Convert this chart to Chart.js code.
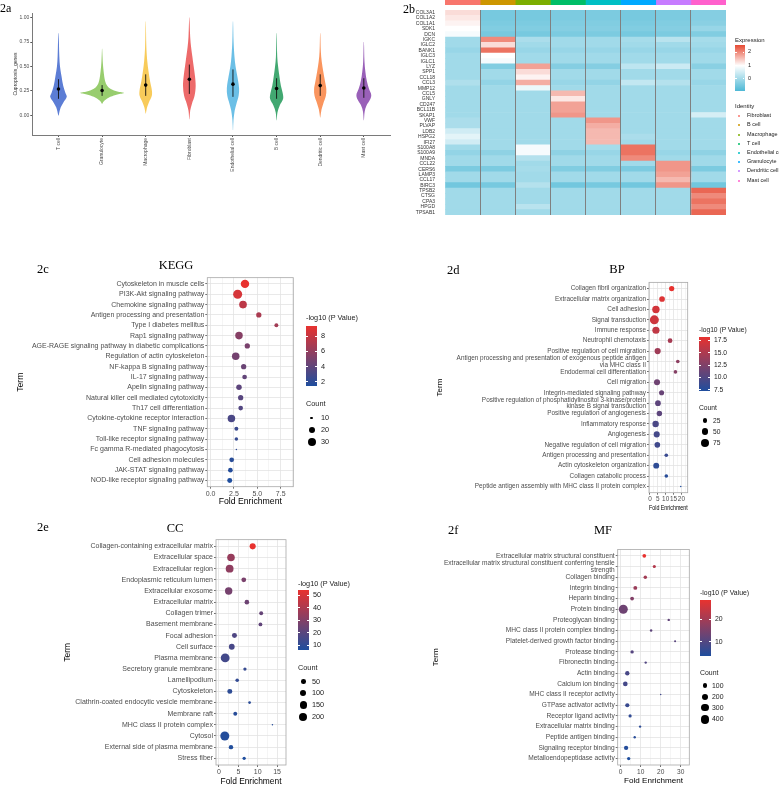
<!DOCTYPE html>
<html>
<head>
<meta charset="utf-8">
<script src="https://cdn.jsdelivr.net/npm/chart.js@4.4.1/dist/chart.umd.min.js"></script>
<style>
  body { margin: 0; width: 779px; height: 785px; position: relative; overflow: hidden; background: #fff;
         font-family: "Liberation Sans", Arial, sans-serif; }
  .txt { position: absolute; white-space: nowrap; line-height: 1; color: #222; will-change: transform; }
  .box { position: absolute; }
</style>
</head>
<body>
<script>
// ---------- 2a: cuproptosis score per cell type ----------
const cellTypes = ['T cell', 'Granulocyte', 'Macrophage', 'Fibroblast', 'Endothelial cell', 'B cell', 'Dendritic cell', 'Mast cell'];
const scoreMean = [0.27, 0.255, 0.31, 0.37, 0.32, 0.275, 0.305, 0.28];
const scoreLow  = [0.17, 0.20, 0.20, 0.22, 0.19, 0.17, 0.20, 0.18];
const scoreHigh = [0.37, 0.31, 0.42, 0.52, 0.47, 0.38, 0.42, 0.38];
// density outline for each cell type: [score, half width]
const scoreDensity = [
  [[0.0, 0.005], [0.08, 0.05], [0.13, 0.11], [0.19, 0.19], [0.23, 0.16], [0.3, 0.11], [0.4, 0.07], [0.5, 0.035], [0.6, 0.02], [0.84, 0.004]],
  [[0.12, 0.005], [0.15, 0.05], [0.19, 0.19], [0.215, 0.35], [0.23, 0.5], [0.245, 0.35], [0.27, 0.2], [0.3, 0.12], [0.35, 0.07], [0.45, 0.035], [0.55, 0.015], [0.68, 0.003]],
  [[0.02, 0.004], [0.08, 0.03], [0.13, 0.07], [0.2, 0.14], [0.26, 0.14], [0.35, 0.1], [0.45, 0.065], [0.56, 0.035], [0.7, 0.015], [0.96, 0.003]],
  [[-0.04, 0.003], [0.05, 0.02], [0.12, 0.06], [0.2, 0.12], [0.3, 0.145], [0.4, 0.13], [0.5, 0.1], [0.6, 0.07], [0.7, 0.04], [0.8, 0.02], [1.0, 0.003]],
  [[-0.15, 0.003], [-0.05, 0.012], [0.05, 0.04], [0.12, 0.08], [0.2, 0.13], [0.28, 0.14], [0.4, 0.1], [0.5, 0.06], [0.6, 0.035], [0.75, 0.015], [0.96, 0.003]],
  [[-0.05, 0.003], [0.03, 0.02], [0.1, 0.07], [0.17, 0.15], [0.23, 0.14], [0.3, 0.1], [0.4, 0.065], [0.5, 0.035], [0.6, 0.015], [0.84, 0.003]],
  [[-0.02, 0.003], [0.06, 0.03], [0.12, 0.07], [0.2, 0.13], [0.27, 0.14], [0.35, 0.11], [0.45, 0.07], [0.55, 0.035], [0.65, 0.015], [0.84, 0.003]],
  [[-0.05, 0.003], [0.04, 0.02], [0.1, 0.06], [0.16, 0.14], [0.21, 0.17], [0.27, 0.12], [0.35, 0.07], [0.45, 0.035], [0.55, 0.015], [0.75, 0.003]]
];

// ---------- 2b: marker gene heatmap ----------
const clusters = ['Fibroblast', 'B cell', 'Macrophage', 'T cell', 'Endothelial cell', 'Granulocyte', 'Dendritic cell', 'Mast cell'];
const genes = ['COL3A1', 'COL1A2', 'COL1A1', 'SDK1', 'DCN', 'IGKC', 'IGLC2', 'BANK1', 'IGLC3', 'IGLC1',
  'LYZ', 'SPP1', 'CCL18', 'CCL3', 'MMP12', 'CCL5', 'GNLY', 'CD247', 'BCL11B', 'SKAP1',
  'VWF', 'PLVAP', 'LDB2', 'HSPG2', 'IFI27', 'S100A8', 'S100A9', 'MNDA', 'CCL22', 'CERS6',
  'LAMP3', 'CCL17', 'BIRC3', 'TPSB2', 'CTSG', 'CPA3', 'HPGD', 'TPSAB1'];
// mean scaled expression, gene x cluster
const expr = [
  [1.3, -0.45, -0.45, -0.4, -0.4, -0.45, -0.4, -0.3],
  [1.2, -0.45, -0.45, -0.4, -0.4, -0.45, -0.4, -0.3],
  [1.1, -0.4, -0.4, -0.35, -0.35, -0.4, -0.35, -0.25],
  [1.0, -0.35, -0.35, -0.3, -0.3, -0.35, -0.3, -0.1],
  [0.9, -0.45, -0.45, -0.4, -0.4, -0.45, -0.4, -0.35],
  [0.0, 2.0, 0.1, 0.0, 0.0, 0.05, 0.25, 0.05],
  [0.0, 1.3, 0.0, 0.0, 0.0, 0.0, 0.0, 0.0],
  [-0.1, 2.2, -0.1, -0.1, -0.1, -0.1, -0.1, -0.1],
  [0.0, 1.0, 0.0, 0.0, 0.0, 0.0, 0.0, 0.0],
  [0.0, 0.9, 0.0, 0.0, 0.0, 0.0, 0.0, 0.0],
  [0.0, -0.35, 1.8, -0.3, -0.3, 0.3, 0.45, -0.25],
  [0.0, 0.0, 1.3, 0.0, 0.0, 0.0, 0.0, 0.0],
  [0.0, 0.0, 1.1, 0.0, 0.0, 0.0, 0.0, 0.0],
  [0.15, -0.15, 1.7, -0.1, -0.15, 0.35, 0.2, -0.1],
  [0.0, 0.0, 0.8, 0.0, 0.0, 0.0, 0.0, 0.0],
  [0.0, 0.0, 0.0, 1.6, 0.0, 0.0, 0.0, 0.0],
  [0.0, 0.0, 0.0, 1.2, 0.0, 0.0, 0.0, 0.0],
  [0.0, 0.0, 0.0, 1.8, 0.0, 0.0, 0.0, 0.0],
  [0.0, 0.0, 0.0, 1.8, 0.0, 0.0, 0.0, 0.0],
  [0.0, 0.0, 0.0, 1.9, 0.0, 0.0, 0.0, 0.55],
  [0.1, 0.0, 0.0, 0.0, 1.9, 0.0, 0.0, 0.0],
  [0.1, 0.0, 0.0, 0.0, 1.7, 0.0, 0.0, 0.0],
  [0.5, 0.0, 0.0, 0.0, 1.6, 0.0, 0.0, 0.0],
  [0.7, 0.0, 0.0, 0.0, 1.6, 0.1, 0.0, 0.0],
  [0.5, 0.0, 0.0, 0.0, 1.6, 0.0, 0.0, 0.0],
  [0.0, 0.0, 0.9, 0.0, 0.05, 2.2, 0.0, 0.0],
  [-0.15, -0.2, 0.9, -0.2, -0.1, 2.2, -0.1, -0.2],
  [0.0, 0.0, 0.2, 0.0, 0.0, 2.0, 0.0, 0.0],
  [0.0, 0.0, 0.0, 0.0, 0.0, 0.0, 1.9, 0.0],
  [-0.4, -0.4, 0.05, -0.35, -0.35, -0.4, 1.9, -0.4],
  [0.0, 0.0, 0.0, 0.0, 0.0, 0.0, 1.8, 0.0],
  [0.0, 0.0, 0.0, 0.0, 0.0, 0.0, 1.6, 0.0],
  [-0.5, -0.45, 0.2, -0.5, -0.45, -0.5, 1.9, -0.5],
  [0.0, 0.0, 0.0, 0.0, 0.0, 0.0, 0.0, 2.3],
  [0.0, 0.0, 0.0, 0.0, 0.0, 0.0, 0.0, 2.0],
  [0.0, 0.0, 0.0, 0.0, 0.0, 0.0, 0.0, 2.2],
  [0.0, 0.0, 0.25, 0.0, 0.0, 0.0, 0.0, 2.0],
  [0.0, 0.0, 0.0, 0.0, 0.0, 0.0, 0.0, 2.3]
];
const exprBreaks = [0, 1, 2];

// ---------- 2c: KEGG ----------
const keggTerms = ['Cytoskeleton in muscle cells', 'PI3K-Akt signaling pathway', 'Chemokine signaling pathway',
  'Antigen processing and presentation', 'Type I diabetes mellitus', 'Rap1 signaling pathway',
  'AGE-RAGE signaling pathway in diabetic complications', 'Regulation of actin cytoskeleton',
  'NF-kappa B signaling pathway', 'IL-17 signaling pathway', 'Apelin signaling pathway',
  'Natural killer cell mediated cytotoxicity', 'Th17 cell differentiation',
  'Cytokine-cytokine receptor interaction', 'TNF signaling pathway', 'Toll-like receptor signaling pathway',
  'Fc gamma R-mediated phagocytosis', 'Cell adhesion molecules', 'JAK-STAT signaling pathway',
  'NOD-like receptor signaling pathway'];
const keggFold  = [3.68, 2.9, 3.47, 5.16, 7.04, 3.04, 3.93, 2.69, 3.54, 3.64, 3.04, 3.22, 3.22, 2.23, 2.76, 2.76, 2.76, 2.26, 2.12, 2.05];
const keggCount = [33, 37, 28, 16, 12, 27, 16, 27, 16, 14, 17, 16, 14, 27, 12, 11, 9, 14, 14, 15];
const keggLogP  = [9.3, 8.6, 7.6, 6.9, 6.6, 5.5, 5.0, 4.8, 4.4, 4.1, 3.9, 3.7, 3.5, 3.2, 2.6, 2.4, 2.2, 1.9, 1.7, 1.5];
const keggColorBreaks = [2, 4, 6, 8];
const keggCountBreaks = [10, 20, 30];

// ---------- 2d: BP ----------
const bpTerms = ['Collagen fibril organization', 'Extracellular matrix organization', 'Cell adhesion',
  'Signal transduction', 'Immune response', 'Neutrophil chemotaxis', 'Positive regulation of cell migration',
  'Antigen processing and presentation of exogenous peptide antigen\nvia MHC class II',
  'Endodermal cell differentiation', 'Cell migration', 'Integrin-mediated signaling pathway',
  'Positive regulation of phosphatidylinositol 3-kinase/protein\nkinase B signal transduction',
  'Positive regulation of angiogenesis', 'Inflammatory response', 'Angiogenesis',
  'Negative regulation of cell migration', 'Antigen processing and presentation',
  'Actin cytoskeleton organization', 'Collagen catabolic process',
  'Peptide antigen assembly with MHC class II protein complex'];
const bpFold  = [13.8, 7.7, 3.8, 2.8, 3.8, 12.8, 4.9, 17.7, 16.2, 4.5, 7.4, 5.1, 6.0, 3.6, 4.3, 4.7, 10.4, 4.0, 10.4, 19.6];
const bpCount = [30, 35, 62, 95, 58, 24, 42, 15, 15, 40, 28, 35, 32, 45, 40, 35, 15, 38, 15, 8];
const bpLogP  = [18.2, 17.6, 17.0, 16.7, 16.0, 14.6, 14.2, 13.2, 12.8, 11.6, 11.2, 10.6, 10.6, 9.6, 9.3, 9.0, 8.6, 8.1, 7.7, 7.2];
const bpColorBreaks = [7.5, 10, 12.5, 15, 17.5];
const bpCountBreaks = [25, 50, 75];

// ---------- 2e: CC ----------
const ccTerms = ['Collagen-containing extracellular matrix', 'Extracellular space', 'Extracellular region',
  'Endoplasmic reticulum lumen', 'Extracellular exosome', 'Extracellular matrix', 'Collagen trimer',
  'Basement membrane', 'Focal adhesion', 'Cell surface', 'Plasma membrane', 'Secretory granule membrane',
  'Lamellipodium', 'Cytoskeleton', 'Clathrin-coated endocytic vesicle membrane', 'Membrane raft',
  'MHC class II protein complex', 'Cytosol', 'External side of plasma membrane', 'Stress fiber'];
const ccFold  = [8.7, 3.1, 2.75, 6.4, 2.5, 7.2, 10.9, 10.7, 4.0, 3.3, 1.6, 6.7, 4.7, 2.8, 7.9, 4.2, 13.8, 1.5, 3.1, 6.5];
const ccCount = [95, 160, 170, 55, 150, 50, 35, 33, 60, 85, 225, 25, 28, 60, 18, 35, 12, 235, 45, 25];
const ccLogP  = [54.3, 35, 33, 28, 27, 25, 23, 22, 18, 16, 15, 12, 11, 10, 9, 8.5, 8, 7.5, 7, 6.3];
const ccColorBreaks = [10, 20, 30, 40, 50];
const ccCountBreaks = [50, 100, 150, 200];

// ---------- 2f: MF ----------
const mfTerms = ['Extracellular matrix structural constituent',
  'Extracellular matrix structural constituent conferring tensile\nstrength', 'Collagen binding',
  'Integrin binding', 'Heparin binding', 'Protein binding', 'Proteoglycan binding',
  'MHC class II protein complex binding', 'Platelet-derived growth factor binding', 'Protease binding',
  'Fibronectin binding', 'Actin binding', 'Calcium ion binding', 'MHC class II receptor activity',
  'GTPase activator activity', 'Receptor ligand activity', 'Extracellular matrix binding',
  'Peptide antigen binding', 'Signaling receptor binding', 'Metalloendopeptidase activity'];
const mfFold  = [11.8, 16.8, 12.3, 7.3, 5.7, 1.3, 24.0, 15.2, 27.2, 5.7, 12.5, 3.3, 2.3, 20.0, 3.3, 4.7, 9.7, 7.0, 2.7, 4.0];
const mfCount = [50, 30, 40, 55, 50, 465, 15, 16, 11, 38, 14, 75, 90, 8, 65, 32, 14, 14, 70, 35];
const mfLogP  = [28.6, 22, 20, 19, 16, 13.5, 12, 11.5, 11, 10.5, 10, 9, 8.5, 8, 7, 6, 5.5, 5, 4.5, 3.75];
const mfColorBreaks = [10, 20];
const mfCountBreaks = [100, 200, 300, 400];

// ---------- styles ----------
const SANS = '"Liberation Sans", Arial, sans-serif';
const SERIF = '"Liberation Serif", "Times New Roman", serif';
const violinColors = ['#4a6fd0', '#8dc85e', '#f7c548', '#eb5a5a', '#5bb8e3', '#2e9e62', '#f98a4c', '#8e4fb0'];
const clusterColors = ['#F8766D', '#CD9600', '#7CAE00', '#00BE67', '#00BFC4', '#00A9FF', '#C77CFF', '#FF61CC'];
const heatStops = [[-0.9, '#4db8d5'], [1, '#ffffff'], [2.55, '#e64a33']];
const LOW = '#1f4e9e', HIGH = '#e8322f';

Chart.defaults.font.family = SANS;

function hex2rgb(h) { const n = parseInt(h.slice(1), 16); return [n >> 16 & 255, n >> 8 & 255, n & 255]; }
function mix(a, b, t) {
  const A = hex2rgb(a), B = hex2rgb(b);
  return 'rgb(' + A.map((v, k) => Math.round(v + (B[k] - v) * t)).join(',') + ')';
}
function ramp(stops, v) {
  if (v <= stops[0][0]) return mix(stops[0][1], stops[0][1], 0);
  for (let k = 1; k < stops.length; k++) {
    if (v <= stops[k][0]) return mix(stops[k - 1][1], stops[k][1], (v - stops[k - 1][0]) / (stops[k][0] - stops[k - 1][0]));
  }
  const last = stops[stops.length - 1][1];
  return mix(last, last, 0);
}

function makeCanvas(left, top, w, h) {
  const c = document.createElement('canvas');
  c.width = w; c.height = h;
  Object.assign(c.style, { position: 'absolute', left: left + 'px', top: top + 'px', width: w + 'px', height: h + 'px' });
  document.body.appendChild(c);
  return c;
}
function label(x, y, str, o = {}) {
  const d = document.createElement('div');
  d.className = 'txt';
  d.textContent = str;
  d.style.left = x + 'px';
  d.style.top = y + 'px';
  d.style.fontSize = (o.size || 6) + 'px';
  if (o.serif) d.style.fontFamily = SERIF;
  if (o.color) d.style.color = o.color;
  const tx = o.align === 'center' ? '-50%' : o.align === 'right' ? '-100%' : '0';
  d.style.transform = 'translate(' + tx + ',-50%)';
  document.body.appendChild(d);
}
function box(x, y, w, h, bg, radius) {
  const d = document.createElement('div');
  d.className = 'box';
  Object.assign(d.style, { left: x + 'px', top: y + 'px', width: w + 'px', height: h + 'px', background: bg });
  if (radius) d.style.borderRadius = radius;
  document.body.appendChild(d);
}

// panel border for the enrichment plots
const frame = {
  id: 'frame',
  afterDraw(chart, args, opts) {
    if (!opts.color) return;
    const { ctx, chartArea: a } = chart;
    ctx.save();
    ctx.strokeStyle = opts.color;
    ctx.lineWidth = 0.8;
    ctx.strokeRect(a.left, a.top, a.right - a.left, a.bottom - a.top);
    ctx.restore();
  }
};

// ---------- 2a violin ----------
label(0, 7.5, '2a', { size: 12, serif: true, color: '#000' });
{
  const outline = i => {
    const prof = scoreDensity[i];
    const right = prof.map(([y, w]) => ({ x: i + w, y }));
    const left = prof.slice().reverse().map(([y, w]) => ({ x: i - w, y }));
    return right.concat(left);
  };
  const cv = makeCanvas(9, 9, 382, 171);
  new Chart(cv, {
    type: 'scatter',
    data: {
      datasets: [
        ...cellTypes.map((n, i) => ({
          type: 'line', data: outline(i), fill: 'shape', backgroundColor: violinColors[i] + 'e6',
          borderColor: 'rgba(0,0,0,0)', borderWidth: 1, pointRadius: 0, tension: 0.35, order: 3
        })),
        ...cellTypes.map((n, i) => ({
          type: 'line', data: [{ x: i, y: scoreLow[i] }, { x: i, y: scoreHigh[i] }],
          borderColor: '#111', borderWidth: 0.9, pointRadius: 0, fill: false, order: 2
        })),
        {
          type: 'scatter', data: cellTypes.map((n, i) => ({ x: i, y: scoreMean[i] })),
          pointRadius: 1.8, backgroundColor: '#000', borderWidth: 0, order: 1
        }
      ]
    },
    options: {
      responsive: false, animation: false, events: [],
      layout: { autoPadding: false, padding: { left: 0, top: 2.7, right: 1, bottom: 0 } },
      plugins: { legend: { display: false }, tooltip: { enabled: false } },
      scales: {
        x: {
          type: 'linear', min: -0.6, max: 7.6,
          afterFit: s => { s.height = 45; },
          border: { color: '#7a7a7a', width: 1 },
          grid: { drawOnChartArea: false, color: '#555', tickLength: 2 },
          ticks: {
            stepSize: 1, includeBounds: false, autoSkip: false, minRotation: 90, maxRotation: 90, padding: 1,
            color: '#4d4d4d', font: { family: SANS, size: 5 }, callback: v => cellTypes[v] ?? ''
          }
        },
        y: {
          type: 'linear', min: -0.2, max: 1.047,
          afterFit: s => { s.width = 23.3; },
          border: { color: '#7a7a7a', width: 1 },
          grid: { drawOnChartArea: false, color: '#555', tickLength: 2 },
          ticks: {
            stepSize: 0.25, includeBounds: false, padding: 1, color: '#4d4d4d',
            font: { family: SANS, size: 5 }, callback: v => v.toFixed(2)
          },
          title: { display: true, text: 'Cuproptosis_genes', color: '#333', font: { family: SANS, size: 5 }, padding: { top: 4, bottom: 4 } }
        }
      }
    }
  });
}

// ---------- 2b heatmap ----------
label(403, 9, '2b', { size: 12, serif: true, color: '#000' });
{
  // identity colour strip
  const strip = makeCanvas(445, 0, 281, 5);
  new Chart(strip, {
    type: 'bar',
    data: {
      labels: [''],
      datasets: clusters.map((c, j) => ({
        data: [[j, j + 1]], backgroundColor: clusterColors[j], grouped: false,
        barPercentage: 1, categoryPercentage: 1, borderWidth: 0
      }))
    },
    options: {
      indexAxis: 'y', responsive: false, animation: false, events: [],
      layout: { autoPadding: false, padding: 0 },
      plugins: { legend: { display: false }, tooltip: { enabled: false } },
      scales: { x: { display: false, min: 0, max: 8 }, y: { display: false } }
    }
  });

  const cv = makeCanvas(390, 5, 336, 215);
  new Chart(cv, {
    type: 'bar',
    data: {
      labels: genes,
      datasets: clusters.map((c, j) => ({
        label: c,
        data: genes.map(() => [j, j + 1]),
        backgroundColor: expr.map(row => ramp(heatStops, row[j])),
        grouped: false, barPercentage: 1, categoryPercentage: 1, borderWidth: 0
      }))
    },
    options: {
      indexAxis: 'y', responsive: false, animation: false, events: [],
      layout: { autoPadding: false, padding: { left: 0, top: 2.3, right: 0, bottom: 1.7 } },
      plugins: { legend: { display: false }, tooltip: { enabled: false } },
      scales: {
        x: {
          type: 'linear', min: 0, max: 8,
          afterFit: s => { s.height = 0; },
          border: { display: false },
          ticks: { display: false, stepSize: 1 },
          grid: { z: 1, drawTicks: false, lineWidth: 1, color: c => (c.tick && c.tick.value > 0 && c.tick.value < 8) ? '#808080' : 'rgba(0,0,0,0)' }
        },
        y: {
          type: 'category',
          afterFit: s => { s.width = 55; },
          border: { display: false },
          grid: { display: false },
          ticks: { autoSkip: false, padding: 2, color: '#333', font: { family: SANS, size: 5 } }
        }
      }
    }
  });

  // expression legend
  label(735, 40, 'Expression', { size: 6 });
  const top = 45, bottom = 90.7, lo = heatStops[0][0], hi = heatStops[heatStops.length - 1][0];
  const grad = heatStops.map(([v, c]) => c + ' ' + ((v - lo) / (hi - lo) * 100).toFixed(1) + '%').join(',');
  box(735, top, 9.5, bottom - top, 'linear-gradient(to top,' + grad + ')');
  exprBreaks.forEach(v => {
    const y = bottom - (v - lo) / (hi - lo) * (bottom - top);
    box(735, y - 0.4, 1.8, 0.8, '#fff');
    box(742.7, y - 0.4, 1.8, 0.8, '#fff');
    label(747.5, y, String(v), { size: 5.5 });
  });
  // identity legend
  label(735, 106, 'Identity', { size: 6 });
  const itemY = [116, 125.3, 134.7, 143.7, 153, 162, 171.3, 180.7];
  clusters.forEach((c, j) => {
    box(737.8, itemY[j] - 1.2, 2.4, 2.4, clusterColors[j], '50%');
    label(746.5, itemY[j], c, { size: 5.5 });
  });
}

// ---------- enrichment bubble plots ----------
function enrichPanel(p, terms, fold, count, logp, colorBreaks, countBreaks) {
  const lo = Math.min(...logp), hi = Math.max(...logp);
  const cMin = Math.min(...count), cMax = Math.max(...count);
  const rad = c => 0.75 * (1 + 5 * Math.sqrt(Math.max(0, (c - cMin) / (cMax - cMin))));
  const col = v => ramp([[lo, LOW], [hi, HIGH]], v);
  const isMajor = v => Math.abs(v / p.major - Math.round(v / p.major)) < 1e-6;
  const lh = p.axisFont * 1.2;
  const cl = Math.floor(p.termX - 4 - lh / 2);
  const ct = Math.floor(p.T - 3);
  const xb = p.foldY + 2 + lh / 2;
  const W = Math.ceil(p.R + 3 - cl), H = Math.ceil(xb - ct);

  label(p.tag.x, p.tag.y, p.tag.text, { size: 12.5, serif: true, color: '#000' });
  label(p.title.x, p.title.y, p.title.text, { size: 12.5, serif: true, color: '#000', align: 'center' });

  const cv = makeCanvas(cl, ct, W, H);
  new Chart(cv, {
    type: 'bubble',
    data: {
      datasets: [{
        data: terms.map((t, i) => ({ x: fold[i], y: i, r: rad(count[i]) })),
        backgroundColor: logp.map(col), borderWidth: 0, hoverRadius: 0
      }]
    },
    options: {
      responsive: false, animation: false, events: [],
      layout: { autoPadding: false, padding: { left: 0, top: p.T - ct, right: W - (p.R - cl), bottom: H - (xb - ct) } },
      plugins: { legend: { display: false }, tooltip: { enabled: false }, frame: { color: '#a8a8a8' } },
      scales: {
        x: {
          type: 'linear', min: p.xMin, max: p.xMax,
          afterFit: s => { s.height = xb - p.B; },
          border: { display: false },
          grid: {
            lineWidth: 0.8, tickLength: 2,
            color: c => (c.tick && isMajor(c.tick.value)) ? '#e3e3e3' : '#f2f2f2',
            tickColor: c => (c.tick && isMajor(c.tick.value)) ? '#4d4d4d' : 'rgba(0,0,0,0)'
          },
          ticks: {
            stepSize: p.major / 2, includeBounds: false, autoSkip: false, maxRotation: 0, padding: 1,
            color: '#4d4d4d', font: { family: SANS, size: p.font },
            callback: v => isMajor(v) ? v.toFixed(p.dec) : ''
          },
          title: { display: true, text: 'Fold Enrichment', color: '#000', font: { family: SANS, size: p.axisFont }, padding: { top: 2, bottom: 2 } }
        },
        y: {
          type: 'linear', reverse: true, min: -0.6, max: terms.length - 0.4,
          afterFit: s => { s.width = p.L - cl; },
          border: { display: false },
          grid: { color: '#e3e3e3', lineWidth: 0.8, tickColor: '#4d4d4d', tickLength: 2 },
          ticks: {
            stepSize: 1, includeBounds: false, autoSkip: false, padding: 1, color: '#4d4d4d',
            font: { family: SANS, size: p.font, lineHeight: 1.05 },
            callback: v => terms[v] !== undefined ? terms[v].split('\n') : ''
          },
          title: { display: true, text: 'Term', color: '#000', font: { family: SANS, size: p.axisFont }, padding: { top: 4, bottom: 4 } }
        }
      }
    },
    plugins: [frame]
  });

  // legends
  const lg = p.legend, fs = p.font + 0.3, bw = 10.5;
  label(lg.x, lg.titleY, '-log10 (P Value)', { size: fs });
  const bh = lg.barBottom - lg.barTop;
  box(lg.x, lg.barTop, bw, bh, 'linear-gradient(to top,' + LOW + ',' + HIGH + ')');
  colorBreaks.forEach(v => {
    const y = lg.barBottom - (v - lo) / (hi - lo) * bh;
    box(lg.x, y - 0.4, 2, 0.8, '#fff');
    box(lg.x + bw - 2, y - 0.4, 2, 0.8, '#fff');
    label(lg.x + bw + 4, y, v.toFixed(p.legendDec), { size: fs });
  });
  label(lg.x, lg.countY, 'Count', { size: fs });
  countBreaks.forEach((c, k) => {
    const r = rad(c);
    box(lg.circleX - r, lg.circlesY[k] - r, 2 * r, 2 * r, '#000', '50%');
    label(lg.labelX, lg.circlesY[k], String(c), { size: fs });
  });
}

enrichPanel({
  L: 207.3, R: 293.3, T: 276.7, B: 486.7, termX: 20.7, foldY: 502,
  xMin: -0.35, xMax: 8.85, major: 2.5, dec: 1, legendDec: 0, font: 7, axisFont: 8.7,
  tag: { x: 37, y: 269, text: '2c' }, title: { x: 175.7, y: 265, text: 'KEGG' },
  legend: { x: 306, titleY: 318, barTop: 326, barBottom: 385.7, countY: 404, circlesY: [418, 430, 442], circleX: 311.7, labelX: 321 }
}, keggTerms, keggFold, keggCount, keggLogP, keggColorBreaks, keggCountBreaks);

enrichPanel({
  L: 649, R: 687.7, T: 281.7, B: 492.7, termX: 440.7, foldY: 508,
  xMin: -0.6, xMax: 24, major: 5, dec: 0, legendDec: 1, font: 6.4, axisFont: 8,
  tag: { x: 447, y: 270, text: '2d' }, title: { x: 616.7, y: 269, text: 'BP' },
  legend: { x: 699, titleY: 330, barTop: 337, barBottom: 391, countY: 408, circlesY: [420.7, 431.7, 442.7], circleX: 705, labelX: 713 }
}, bpTerms, bpFold, bpCount, bpLogP, bpColorBreaks, bpCountBreaks);

enrichPanel({
  L: 216, R: 286, T: 538.3, B: 765, termX: 68.3, foldY: 781.7,
  xMin: -0.77, xMax: 17.3, major: 5, dec: 0, legendDec: 0, font: 7, axisFont: 8.4,
  tag: { x: 37, y: 527, text: '2e' }, title: { x: 175, y: 528, text: 'CC' },
  legend: { x: 298, titleY: 584, barTop: 590, barBottom: 650, countY: 668, circlesY: [681.7, 693.3, 705, 716.7], circleX: 303.3, labelX: 312 }
}, ccTerms, ccFold, ccCount, ccLogP, ccColorBreaks, ccCountBreaks);

enrichPanel({
  L: 617.7, R: 689.3, T: 548.3, B: 765, termX: 436.7, foldY: 780.7,
  xMin: -1.5, xMax: 34.3, major: 10, dec: 0, legendDec: 0, font: 6.6, axisFont: 8.1,
  tag: { x: 448, y: 530, text: '2f' }, title: { x: 603, y: 530, text: 'MF' },
  legend: { x: 700, titleY: 592.7, barTop: 600, barBottom: 655.7, countY: 673, circlesY: [685.7, 696.7, 707.7, 719.3], circleX: 705, labelX: 712 }
}, mfTerms, mfFold, mfCount, mfLogP, mfColorBreaks, mfCountBreaks);
</script>
</body>
</html>
